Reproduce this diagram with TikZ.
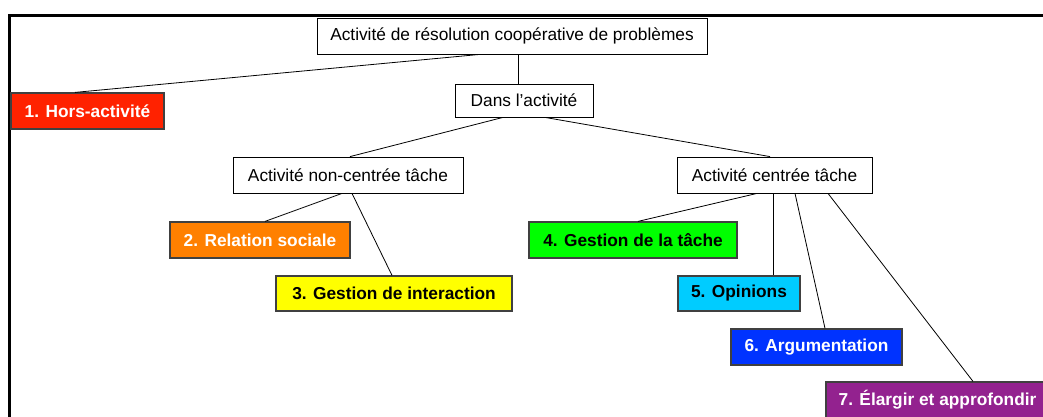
\documentclass[tikz,border=0pt]{standalone}
\usepackage{fontspec}
\setmainfont{Liberation Sans}
\usepackage{tikz}
\usetikzlibrary{shapes.geometric, arrows}
\definecolor{horsred}{HTML}{FF2200}
\definecolor{relorange}{HTML}{FF8000}
\definecolor{interyellow}{HTML}{FFFF00}
\definecolor{tachegreen}{HTML}{00FF00}
\definecolor{opincyan}{HTML}{00CCFF}
\definecolor{argublue}{HTML}{0033FF}
\definecolor{elarpurple}{HTML}{93228F}
\tikzstyle{plain} = [draw, fill=white, line width=0.8pt, inner sep=0pt, minimum height=36pt, font=\fontsize{17.3}{20}\selectfont]
\tikzstyle{cat} = [draw=black!75, line width=1.2pt, inner sep=0pt, minimum height=36pt, font=\fontsize{17.3}{20}\selectfont\bfseries]
\tikzstyle{link} = [line width=0.8pt]

\begin{document}
\begin{tikzpicture}[x=1pt,y=-1pt]
  \useasboundingbox (0,0) rectangle (1043,417);
  \clip (0,0) rectangle (1043,417);
  \draw[line width=3pt] (9.5,440) -- (9.5,16) -- (1060,16);

  \node[plain, minimum width=390pt] (root) at (512,36) {Activité de résolution coopérative de problèmes};
  \node[plain, minimum width=138pt, minimum height=33pt] (dans) at (524,100.5) {Dans l’activité};
  \node[plain, minimum width=230pt] (noncentre) at (348,175) {Activité non-centrée tâche};
  \node[plain, minimum width=195pt] (centre) at (774.5,175) {Activité centrée tâche};

  \node[cat, fill=horsred, text=white, minimum width=153pt] (hors) at (87.5,111) {1. Hors-activité};
  \node[cat, fill=relorange, text=white, minimum width=180pt] (relation) at (260,240) {2. Relation sociale};
  \node[cat, fill=interyellow, minimum width=236pt, minimum height=35pt] (interaction) at (394,293.5) {3. Gestion de interaction};
  \node[cat, fill=tachegreen, minimum width=208pt] (tache) at (633,240) {4. Gestion de la tâche};
  \node[cat, fill=opincyan, minimum width=122pt, minimum height=35pt] (opinions) at (739,293.5) {5. Opinions};
  \node[cat, fill=argublue, text=white, minimum width=171pt] (argu) at (816.5,347) {6. Argumentation};
  \node[cat, fill=elarpurple, text=white, minimum width=223pt] (elargir) at (937.5,400) {7. Élargir et approfondir};

  \draw[link] ([xshift=-32pt]root.south) -- ([xshift=-12.5pt]hors.north);
  \draw[link] ([xshift=6pt]root.south) -- ([xshift=-6pt]dans.north);
  \draw[link] ([xshift=-21pt]dans.south) -- ([xshift=2pt]noncentre.north);
  \draw[link] ([xshift=21pt]dans.south) -- ([xshift=-4.5pt]centre.north);
  \draw[link] ([xshift=-6pt]noncentre.south) -- ([xshift=5pt]relation.north);
  \draw[link] ([xshift=4pt]noncentre.south) -- ([xshift=-2pt]interaction.north);
  \draw[link] ([xshift=-17.5pt]centre.south) -- ([xshift=5pt]tache.north);
  \draw[link] ([xshift=-1.5pt]centre.south) -- ([xshift=34pt]opinions.north);
  \draw[link] ([xshift=20.5pt]centre.south) -- ([xshift=8.5pt]argu.north);
  \draw[link] ([xshift=53.5pt]centre.south) -- ([xshift=35.5pt]elargir.north);
\end{tikzpicture}
\end{document}
